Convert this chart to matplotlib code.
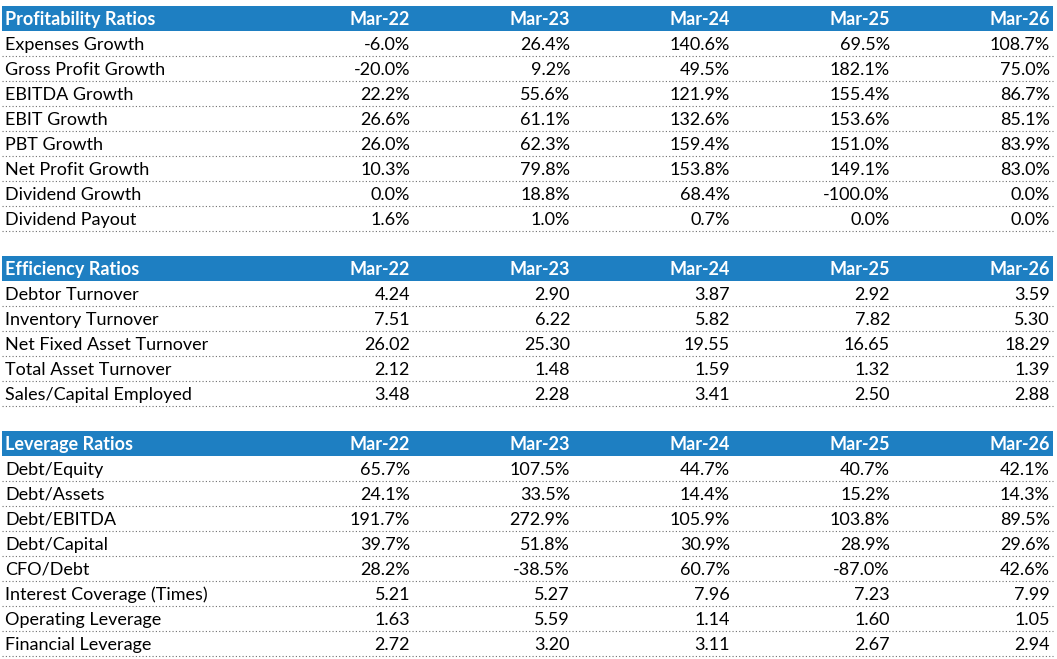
import matplotlib
matplotlib.use('Agg')
import matplotlib.pyplot as plt

# column headers
years = ["Mar-22", "Mar-23", "Mar-24", "Mar-25", "Mar-26"]

# Profitability section
prof_title = "Profitability Ratios"
prof_labels = ["Expenses Growth", "Gross Profit Growth", "EBITDA Growth", "EBIT Growth",
               "PBT Growth", "Net Profit Growth", "Dividend Growth", "Dividend Payout"]
prof_values = [
    ["-6.0%", "26.4%", "140.6%", "69.5%", "108.7%"],
    ["-20.0%", "9.2%", "49.5%", "182.1%", "75.0%"],
    ["22.2%", "55.6%", "121.9%", "155.4%", "86.7%"],
    ["26.6%", "61.1%", "132.6%", "153.6%", "85.1%"],
    ["26.0%", "62.3%", "159.4%", "151.0%", "83.9%"],
    ["10.3%", "79.8%", "153.8%", "149.1%", "83.0%"],
    ["0.0%", "18.8%", "68.4%", "-100.0%", "0.0%"],
    ["1.6%", "1.0%", "0.7%", "0.0%", "0.0%"],
]

# Efficiency section
eff_title = "Efficiency Ratios"
eff_labels = ["Debtor Turnover", "Inventory Turnover", "Net Fixed Asset Turnover",
              "Total Asset Turnover", "Sales/Capital Employed"]
eff_values = [
    ["4.24", "2.90", "3.87", "2.92", "3.59"],
    ["7.51", "6.22", "5.82", "7.82", "5.30"],
    ["26.02", "25.30", "19.55", "16.65", "18.29"],
    ["2.12", "1.48", "1.59", "1.32", "1.39"],
    ["3.48", "2.28", "3.41", "2.50", "2.88"],
]

# Leverage section
lev_title = "Leverage Ratios"
lev_labels = ["Debt/Equity", "Debt/Assets", "Debt/EBITDA", "Debt/Capital", "CFO/Debt",
              "Interest Coverage (Times)", "Operating Leverage", "Financial Leverage"]
lev_values = [
    ["65.7%", "107.5%", "44.7%", "40.7%", "42.1%"],
    ["24.1%", "33.5%", "14.4%", "15.2%", "14.3%"],
    ["191.7%", "272.9%", "105.9%", "103.8%", "89.5%"],
    ["39.7%", "51.8%", "30.9%", "28.9%", "29.6%"],
    ["28.2%", "-38.5%", "60.7%", "-87.0%", "42.6%"],
    ["5.21", "5.27", "7.96", "7.23", "7.99"],
    ["1.63", "5.59", "1.14", "1.60", "1.05"],
    ["2.72", "3.20", "3.11", "2.67", "2.94"],
]

sections = [(prof_title, prof_labels, prof_values),
            (eff_title, eff_labels, eff_values),
            (lev_title, lev_labels, lev_values)]

blue = "#1e7fc2"
font = ["Lato", "DejaVu Sans"]
fs = 13

W, H = 1057, 659
fig = plt.figure(figsize=(W / 100, H / 100), dpi=100)
ax = fig.add_axes([0, 0, 1, 1])
ax.set_xlim(0, W)
ax.set_ylim(H, 0)
ax.axis("off")

row_h = 25
top = 5.5
left, right = 2, 1053
label_x = 5
col_right = [410, 570, 730, 890, 1050]
text_dy = 1.8  # Excel puts text slightly low in the cell

row = 0
for title, labels, values in sections:
    y0 = top + row * row_h
    ax.add_patch(plt.Rectangle((left, y0), right - left, row_h, color=blue, lw=0))
    yc = y0 + row_h / 2 + text_dy
    ax.text(label_x, yc, title, color="white", fontweight="bold", fontsize=fs,
            family=font, va="center", ha="left")
    for x, yr in zip(col_right, years):
        ax.text(x, yc, yr, color="white", fontweight="bold", fontsize=fs,
                family=font, va="center", ha="right")
    row += 1
    for lab, vals in zip(labels, values):
        y0 = top + row * row_h
        yc = y0 + row_h / 2 + text_dy
        ax.text(label_x, yc, lab, color="black", fontsize=fs, family=font,
                va="center", ha="left")
        for x, v in zip(col_right, vals):
            ax.text(x, yc, v, color="black", fontsize=fs, family=font,
                    va="center", ha="right")
        ax.plot([left, right], [y0 + row_h, y0 + row_h], color="#6f6f6f",
                lw=0.8, ls=(0, (1, 2)))
        row += 1
    row += 1  # blank spacer row

fig.savefig("out.png", dpi=100)
